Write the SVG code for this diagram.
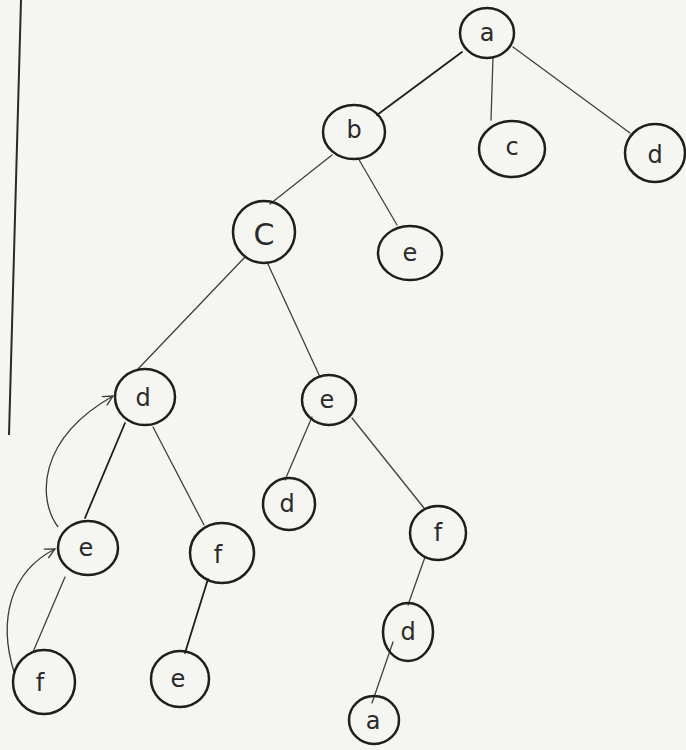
<svg xmlns="http://www.w3.org/2000/svg" width="686" height="750" viewBox="0 0 686 750">
  <style>
    .node ellipse { fill: none; stroke: #1e1e1e; stroke-width: 2.5; }
    .node text { font-family: "DejaVu Sans", "Liberation Sans", sans-serif; font-size: 24px; fill: #2a2a2a; text-anchor: middle; dominant-baseline: central; }
    .edge { stroke: #404040; stroke-width: 1.3; fill: none; stroke-linecap: round; }
    .dark { stroke: #1e1e1e; stroke-width: 1.8; }
    .back { stroke: #3a3a3a; stroke-width: 1.3; fill: none; marker-end: url(#open); }
  </style>
  <defs>
    <marker id="open" markerWidth="12" markerHeight="12" refX="11" refY="6" orient="auto" markerUnits="userSpaceOnUse">
      <path d="M1,1 L11,6 L1,11" fill="none" stroke="#3a3a3a" stroke-width="1.3"/>
    </marker>
  </defs>
  <rect width="686" height="750" fill="#f5f5f2"/>

  <!-- margin rule -->
  <line x1="21" y1="0" x2="9" y2="435" stroke="#2a2a2a" stroke-width="2"/>

  <g id="connectors">
    <line class="edge dark" x1="462" y1="52" x2="377" y2="115"/>
    <line class="edge" x1="493" y1="57" x2="491" y2="120"/>
    <line class="edge" x1="513" y1="47" x2="630" y2="133"/>
    <line class="edge" x1="332" y1="155" x2="270" y2="204"/>
    <line class="edge" x1="358" y1="158" x2="397" y2="225"/>
    <line class="edge" x1="245" y1="257" x2="138" y2="369"/>
    <line class="edge" x1="267" y1="262" x2="320" y2="377"/>
    <line class="edge dark" x1="125" y1="423" x2="85" y2="518"/>
    <line class="edge" x1="153" y1="427" x2="204" y2="525"/>
    <line class="edge" x1="65" y1="577" x2="33" y2="652"/>
    <line class="edge dark" x1="208" y1="579" x2="185" y2="653"/>
    <line class="edge" x1="312" y1="417" x2="285" y2="480"/>
    <line class="edge" x1="352" y1="418" x2="424" y2="508"/>
    <line class="edge" x1="425" y1="557" x2="408" y2="605"/>
    <line class="edge" x1="393" y1="642" x2="372" y2="703"/>
    <!-- back arrows -->
    <path class="back" d="M58,527 C38,500 36,440 113,396"/>
    <path class="back" d="M14,672 C-2,620 10,572 55,549"/>
  </g>

  <g id="n-a" class="node"><ellipse cx="487" cy="33" rx="27" ry="25"/><text x="487" y="33">a</text></g>
  <g id="n-b" class="node"><ellipse cx="354" cy="132" rx="31" ry="27"/><text x="354" y="130">b</text></g>
  <g id="n-c1" class="node"><ellipse cx="512" cy="149" rx="33" ry="28"/><text x="512" y="147">c</text></g>
  <g id="n-d1" class="node"><ellipse cx="655" cy="153" rx="30" ry="29"/><text x="655" y="155">d</text></g>
  <g id="n-C" class="node"><ellipse cx="264" cy="232" rx="31" ry="31"/><text x="264" y="234" style="font-size:30px">C</text></g>
  <g id="n-e1" class="node"><ellipse cx="410" cy="253" rx="32" ry="27"/><text x="410" y="253">e</text></g>
  <g id="n-d2" class="node"><ellipse cx="145" cy="397" rx="30" ry="28"/><text x="143" y="398">d</text></g>
  <g id="n-e2" class="node"><ellipse cx="329" cy="400" rx="27" ry="25"/><text x="327" y="400">e</text></g>
  <g id="n-d3" class="node"><ellipse cx="289" cy="504" rx="26" ry="26"/><text x="287" y="504">d</text></g>
  <g id="n-f1" class="node"><ellipse cx="438" cy="533" rx="28" ry="27"/><text x="438" y="533">f</text></g>
  <g id="n-e3" class="node"><ellipse cx="88" cy="548" rx="30" ry="27"/><text x="86" y="548">e</text></g>
  <g id="n-f2" class="node"><ellipse cx="222" cy="553" rx="32" ry="30"/><text x="218" y="555">f</text></g>
  <g id="n-d4" class="node"><ellipse cx="408" cy="632" rx="25" ry="29"/><text x="408" y="632">d</text></g>
  <g id="n-f3" class="node"><ellipse cx="44" cy="682" rx="31" ry="32"/><text x="40" y="683">f</text></g>
  <g id="n-e4" class="node"><ellipse cx="180" cy="679" rx="29" ry="28"/><text x="178" y="679">e</text></g>
  <g id="n-a2" class="node"><ellipse cx="374" cy="720" rx="25" ry="24"/><text x="373" y="721">a</text></g>
</svg>
